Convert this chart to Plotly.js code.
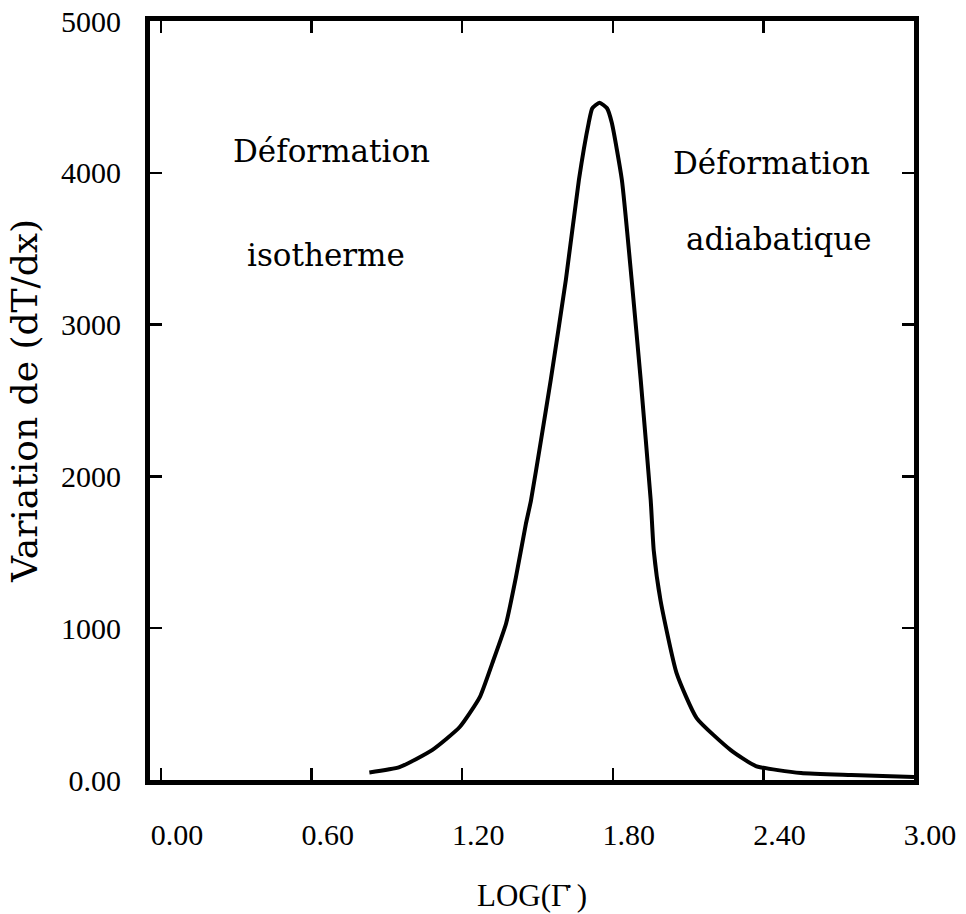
<!DOCTYPE html>
<html>
<head>
<meta charset="utf-8">
<script src="https://cdn.plot.ly/plotly-3.0.1.min.js"></script>
<style>html,body{margin:0;padding:0;background:#fff;}</style>
</head>
<body>
<div id="chart" style="width:966px;height:914px;"></div>
<script>
// Data
const logRate = [0.83, 0.95, 1.08, 1.19, 1.27, 1.32, 1.375, 1.414, 1.454, 1.474, 1.514, 1.553, 1.613, 1.665, 1.704, 1.718, 1.747, 1.777, 1.796, 1.836, 1.875, 1.911, 1.951, 1.963, 1.99, 2.054, 2.134, 2.27, 2.37, 2.55, 2.75, 3.0];
const dTdx    = [50, 85, 197, 349, 546, 770, 1033, 1336, 1690, 1842, 2240, 2638, 3296, 3954, 4329, 4425, 4462, 4425, 4329, 3954, 3296, 2638, 1842, 1513, 1184, 704, 408, 197, 92, 46, 33, 20];

const xTickVals = [0, 0.6, 1.2, 1.8, 2.4, 3.0];
const xTickText = ["0.00", "0.60", "1.20", "1.80", "2.40", "3.00"];
const yTickVals = [0, 1000, 2000, 3000, 4000, 5000];
const yTickText = ["0.00", "1000", "2000", "3000", "4000", "5000"];

const labelsText = ["Déformation", "isotherme", "Déformation", "adiabatique"];
const xTitle = "LOG(Γ\u0307 )";
const yTitle = "Variation de (dT/dx)";

const tickFont = {family: "Liberation Serif, Times New Roman, serif", size: 30, color: "#000"};
const textFont = {family: "DejaVu Serif, serif", size: 31, color: "#000"};

const trace = {
  x: logRate, y: dTdx, type: "scatter", mode: "lines",
  line: {color: "#000", width: 4, shape: "spline", smoothing: 0.5}, hoverinfo: "skip", showlegend: false
};

const layout = {
  width: 966, height: 914,
  margin: {l: 150, r: 52, t: 21, b: 134},
  paper_bgcolor: "#fff", plot_bgcolor: "#fff",
  showlegend: false,
  xaxis: {
    range: [-0.044, 3.0], tickvals: xTickVals, ticktext: xTickText,
    ticks: "inside", ticklen: 12, tickwidth: 2.5, tickcolor: "#000",
    showline: true, linewidth: 5, linecolor: "#000", mirror: "ticks",
    showgrid: false, zeroline: false,
    tickfont: tickFont, ticklabelstandoff: 24, ticklabelshift: 16,
    title: {text: xTitle, font: {family: "Liberation Serif, serif", size: 31, color: "#000"}, standoff: 36}
  },
  yaxis: {
    range: [0, 5000], tickvals: yTickVals, ticktext: yTickText,
    ticks: "inside", ticklen: 12, tickwidth: 2.5, tickcolor: "#000",
    showline: true, linewidth: 5, linecolor: "#000", mirror: "ticks",
    showgrid: false, zeroline: false,
    tickfont: tickFont, ticklabelstandoff: 18,
    title: {text: yTitle, font: {family: "DejaVu Serif, serif", size: 36, color: "#000"}, standoff: 14}
  },
  annotations: [
    {text: labelsText[0], xref: "paper", yref: "paper", x: 0.238, y: 0.829, xanchor: "center", yanchor: "middle", showarrow: false, font: textFont},
    {text: labelsText[1], xref: "paper", yref: "paper", x: 0.230, y: 0.692, xanchor: "center", yanchor: "middle", showarrow: false, font: textFont},
    {text: labelsText[2], xref: "paper", yref: "paper", x: 0.813, y: 0.813, xanchor: "center", yanchor: "middle", showarrow: false, font: textFont},
    {text: labelsText[3], xref: "paper", yref: "paper", x: 0.823, y: 0.713, xanchor: "center", yanchor: "middle", showarrow: false, font: textFont}
  ]
};

Plotly.newPlot("chart", [trace], layout, {displayModeBar: false, staticPlot: true});
</script>
</body>
</html>
